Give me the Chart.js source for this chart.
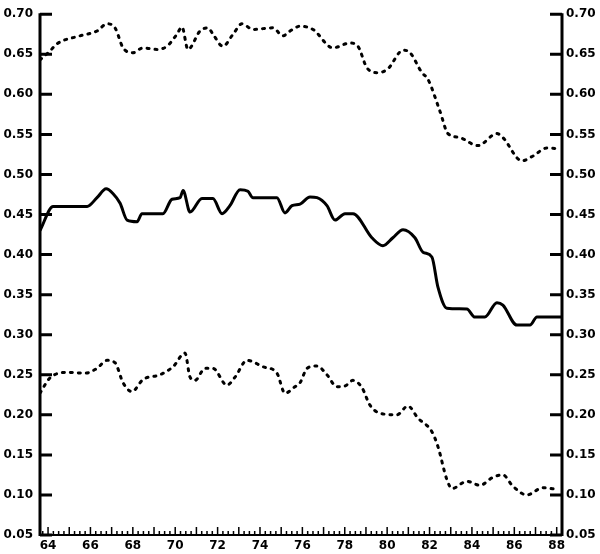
<!DOCTYPE html>
<html>
<head>
<meta charset="utf-8">
<script src="https://cdn.jsdelivr.net/npm/chart.js@4.4.0/dist/chart.umd.min.js"></script>
<style>
  html, body { margin: 0; padding: 0; background: #fff; }
  .chart-box { width: 600px; height: 554px; position: relative; }
</style>
</head>
<body>
<div class="chart-box"><canvas id="ratioChart"></canvas></div>
<script>
// Upper dashed series
const upperYears = [63.62, 64.09, 64.42, 65.51, 66.31, 66.78, 67.16, 67.54, 68.01, 68.48, 69.14, 69.61, 70.08, 70.32, 70.6, 71.17, 71.55, 71.78, 72.25, 72.73, 73.15, 73.67, 74.61, 75.08, 75.42, 75.89, 76.5, 77.44, 78.25, 78.62, 79.05, 79.57, 80.04, 80.75, 81.08, 81.64, 81.92, 82.49, 82.87, 83.43, 84.28, 85.18, 85.46, 86.36, 86.88, 87.54, 88.15]
const upperValues = [0.643, 0.654, 0.663, 0.673, 0.679, 0.688, 0.683, 0.658, 0.652, 0.658, 0.656, 0.66, 0.675, 0.684, 0.656, 0.679, 0.683, 0.675, 0.66, 0.675, 0.688, 0.681, 0.683, 0.673, 0.679, 0.685, 0.681, 0.658, 0.664, 0.66, 0.633, 0.627, 0.632, 0.655, 0.652, 0.627, 0.619, 0.579, 0.551, 0.546, 0.536, 0.551, 0.546, 0.517, 0.523, 0.533, 0.532]

// Middle solid series
const middleYears = [63.62, 64.24, 65.84, 66.31, 66.74, 67.07, 67.4, 67.73, 68.2, 68.43, 69.42, 69.85, 70.23, 70.37, 70.7, 71.26, 71.78, 72.21, 72.58, 73.06, 73.43, 73.67, 74.8, 75.18, 75.51, 75.89, 76.36, 76.69, 77.16, 77.54, 78.01, 78.39, 79.28, 79.8, 80.27, 80.75, 81.31, 81.69, 82.11, 82.4, 82.82, 83.76, 84.14, 84.61, 85.18, 85.46, 86.12, 86.74, 87.07, 88.25]
const middleValues = [0.43, 0.46, 0.46, 0.471, 0.482, 0.476, 0.464, 0.443, 0.441, 0.451, 0.451, 0.469, 0.471, 0.48, 0.453, 0.47, 0.47, 0.451, 0.461, 0.481, 0.479, 0.471, 0.471, 0.452, 0.461, 0.463, 0.472, 0.471, 0.461, 0.443, 0.451, 0.451, 0.421, 0.411, 0.421, 0.431, 0.421, 0.403, 0.397, 0.359, 0.333, 0.332, 0.322, 0.322, 0.34, 0.337, 0.312, 0.312, 0.322, 0.322]

// Lower dashed series
const lowerYears = [63.62, 64.09, 64.9, 65.75, 66.31, 66.78, 67.16, 67.54, 67.96, 68.48, 69.28, 69.9, 70.46, 70.7, 70.93, 71.41, 71.78, 72.44, 72.82, 73.39, 74.14, 74.8, 75.18, 75.65, 75.89, 76.22, 76.69, 77.16, 77.63, 78.01, 78.39, 78.81, 79.19, 79.66, 80.46, 80.98, 81.45, 82.11, 82.4, 82.82, 83.06, 83.76, 84.38, 84.99, 85.46, 85.93, 86.59, 87.35, 88.01]
const lowerValues = [0.227, 0.246, 0.253, 0.252, 0.258, 0.268, 0.265, 0.24, 0.229, 0.244, 0.25, 0.26, 0.277, 0.247, 0.243, 0.258, 0.258, 0.237, 0.247, 0.268, 0.26, 0.252, 0.227, 0.235, 0.24, 0.258, 0.261, 0.25, 0.235, 0.236, 0.243, 0.234, 0.212, 0.202, 0.2, 0.211, 0.196, 0.179, 0.16, 0.119, 0.108, 0.117, 0.112, 0.122, 0.125, 0.111, 0.1, 0.109, 0.107]

// Axis ticks
const xTickYears = [64, 66, 68, 70, 72, 74, 76, 78, 80, 82, 84, 86, 88]
const yTickValues = [0.05, 0.10, 0.15, 0.20, 0.25, 0.30, 0.35, 0.40, 0.45, 0.50, 0.55, 0.60, 0.65, 0.70]

const toPoints = (xs, ys) => xs.map((x, i) => ({ x: x, y: ys[i] }))

document.addEventListener("DOMContentLoaded", () => {
  const tickFont = { family: "'DejaVu Sans', sans-serif", size: 12, weight: "bold" }

  // hand-drawn style frame: thick side axes with inward ticks
  const framePlugin = {
    id: "frame",
    afterDatasetsDraw(chart) {
      const { ctx, chartArea, scales } = chart
      const { left, right, top, bottom } = chartArea
      ctx.save()
      ctx.strokeStyle = "#000"
      ctx.lineCap = "butt"

      ctx.lineWidth = 3
      ctx.beginPath()
      ctx.moveTo(left, top - 1)
      ctx.lineTo(left, bottom + 1)
      ctx.moveTo(right, top - 1)
      ctx.lineTo(right, bottom + 1)
      ctx.stroke()

      ctx.lineWidth = 2
      ctx.beginPath()
      ctx.moveTo(left, bottom)
      ctx.lineTo(right, bottom)
      ctx.stroke()

      ctx.lineWidth = 3
      ctx.beginPath()
      yTickValues.forEach((v) => {
        const y = scales.y.getPixelForValue(v)
        ctx.moveTo(left, y)
        ctx.lineTo(left + 12, y)
        ctx.moveTo(right, y)
        ctx.lineTo(right - 12, y)
      })
      ctx.stroke()

      // quarterly ticks along the bottom
      ctx.lineWidth = 1.5
      ctx.beginPath()
      const xs = scales.x
      for (let q = Math.ceil(xs.min * 4); q <= Math.floor(xs.max * 4); q++) {
        const x = xs.getPixelForValue(q / 4)
        const len = q % 4 === 0 ? 8 : 4
        ctx.moveTo(x, bottom)
        ctx.lineTo(x, bottom - len)
      }
      ctx.stroke()
      ctx.restore()
    },
  }

  const yAxis = (position, width) => ({
    type: "linear",
    position: position,
    min: 0.05,
    max: 0.7,
    grid: { display: false, drawTicks: false },
    border: { display: false },
    afterBuildTicks: (scale) => {
      scale.ticks = yTickValues.map((v) => ({ value: v }))
    },
    afterFit: (scale) => {
      scale.width = width
    },
    ticks: {
      padding: position === "left" ? 7 : 4,
      color: "#000",
      font: tickFont,
      callback: (v) => Number(v).toFixed(2),
    },
  })

  const lineStyle = {
    borderColor: "#000",
    borderWidth: 3,
    pointRadius: 0,
    cubicInterpolationMode: "monotone",
    fill: false,
  }

  new Chart(document.getElementById("ratioChart"), {
    type: "line",
    data: {
      datasets: [
        { ...lineStyle, label: "upper", data: toPoints(upperYears, upperValues), borderDash: [2, 6], borderCapStyle: "round" },
        { ...lineStyle, label: "middle", data: toPoints(middleYears, middleValues) },
        { ...lineStyle, label: "lower", data: toPoints(lowerYears, lowerValues), borderDash: [2, 6], borderCapStyle: "round" },
      ],
    },
    options: {
      responsive: true,
      maintainAspectRatio: false,
      animation: false,
      layout: { padding: { top: 13, left: 0, right: 0, bottom: 0 } },
      plugins: {
        legend: { display: false },
        tooltip: { enabled: false },
      },
      scales: {
        x: {
          type: "linear",
          min: 63.62,
          max: 88.25,
          grid: { display: false, drawTicks: false },
          border: { display: false },
          afterBuildTicks: (scale) => {
            scale.ticks = xTickYears.map((v) => ({ value: v }))
          },
          afterFit: (scale) => {
            scale.height = 19
          },
          ticks: {
            autoSkip: false,
            maxRotation: 0,
            padding: 4,
            color: "#000",
            font: tickFont,
            callback: (v) => String(v),
          },
        },
        y: yAxis("left", 40),
        y2: yAxis("right", 38),
      },
    },
    plugins: [framePlugin],
  })
})
</script>
</body>
</html>
